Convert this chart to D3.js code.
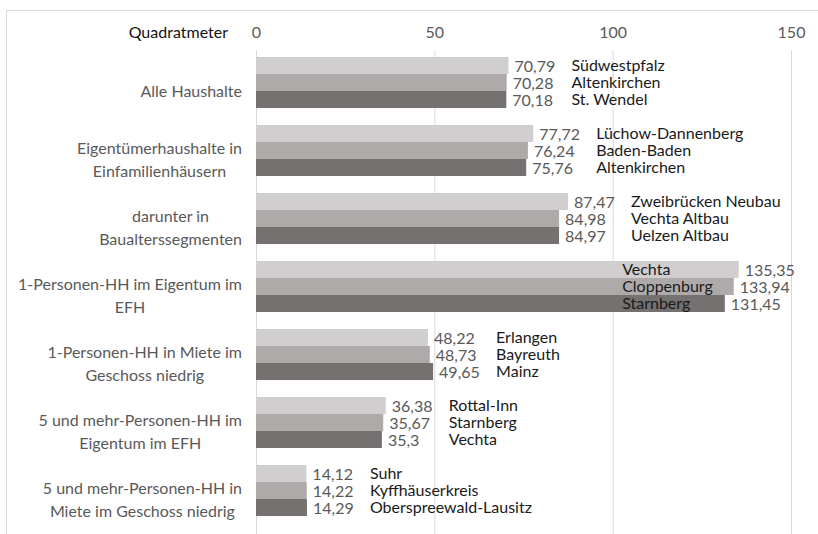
<!DOCTYPE html>
<html>
<head>
<meta charset="utf-8">
<script src="https://cdn.jsdelivr.net/npm/d3@7"></script>
<style>
  body { margin: 0; background: #fff; }
  svg { display: block; }
</style>
</head>
<body>
<div id="chart"></div>
<script>
const WIDTH = 818
const HEIGHT = 534
const FONT = 'Lato, "Open Sans", sans-serif'
const FONT_SIZE = 16

// Kategorien (eine Zeile pro Eintrag im Array)
const CATEGORIES = [
  ['Alle Haushalte'],
  ['Eigentümerhaushalte in', 'Einfamilienhäusern'],
  ['darunter in', 'Baualterssegmenten'],
  ['1-Personen-HH im Eigentum im', 'EFH'],
  ['1-Personen-HH in Miete im', 'Geschoss niedrig'],
  ['5 und mehr-Personen-HH im', 'Eigentum im EFH'],
  ['5 und mehr-Personen-HH in', 'Miete im Geschoss niedrig']
]

// Werte der drei Reihen (Rang 1, 2, 3)
const RANK1 = [70.79, 77.72, 87.47, 135.35, 48.22, 36.38, 14.12]
const RANK2 = [70.28, 76.24, 84.98, 133.94, 48.73, 35.67, 14.22]
const RANK3 = [70.18, 75.76, 84.97, 131.45, 49.65, 35.3, 14.29]

// Regionen zu den Werten
const NAMES1 = ['Südwestpfalz', 'Lüchow-Dannenberg', 'Zweibrücken Neubau', 'Vechta', 'Erlangen', 'Rottal-Inn', 'Suhr']
const NAMES2 = ['Altenkirchen', 'Baden-Baden', 'Vechta Altbau', 'Cloppenburg', 'Bayreuth', 'Starnberg', 'Kyffhäuserkreis']
const NAMES3 = ['St. Wendel', 'Altenkirchen', 'Uelzen Altbau', 'Starnberg', 'Mainz', 'Vechta', 'Oberspreewald-Lausitz']

const TICKS = [0, 50, 100, 150]
const AXIS_TITLE = 'Quadratmeter'

const COLORS = ['#d0cece', '#aeaaaa', '#767171']

const svg = d3.select('#chart').append('svg')
  .attr('width', WIDTH).attr('height', HEIGHT)
  .attr('font-family', FONT)

// Rahmen
svg.append('path')
  .attr('d', `M6.5,${HEIGHT} V10.5 H${WIDTH}`)
  .attr('fill', 'none')
  .attr('stroke', '#d9d9d9')

const x = d3.scaleLinear().domain([0, 150]).range([256, 791])

const y = d3.scaleBand()
  .domain(d3.range(CATEGORIES.length))
  .range([48.5, 524.5])
  .paddingInner(0.25)
  .paddingOuter(0.125)

const ySub = d3.scaleBand().domain([0, 1, 2]).range([0, y.bandwidth()])

const rows = CATEGORIES.map((c, i) => ({
  lines: c,
  items: [
    { s: 0, v: RANK1[i], name: NAMES1[i] },
    { s: 1, v: RANK2[i], name: NAMES2[i] },
    { s: 2, v: RANK3[i], name: NAMES3[i] }
  ]
}))

// Gitterlinien
svg.append('g').selectAll('line')
  .data(TICKS)
  .enter().append('line')
  .attr('x1', d => x(d) + 0.5).attr('x2', d => x(d) + 0.5)
  .attr('y1', 50).attr('y2', HEIGHT)
  .attr('stroke', '#d9d9d9')

// Achse oben
const axisTop = d3.axisTop(x).tickValues(TICKS).tickSize(0).tickPadding(0)
svg.append('g')
  .attr('transform', 'translate(0, 38)')
  .call(axisTop)
  .call(g => g.select('.domain').remove())
  .call(g => g.selectAll('text')
    .attr('font-family', FONT).attr('font-size', FONT_SIZE).attr('fill', '#595959'))

svg.append('text')
  .attr('x', 228).attr('y', 38)
  .attr('text-anchor', 'end')
  .attr('font-size', FONT_SIZE)
  .attr('fill', '#111')
  .text(AXIS_TITLE)

// Kategorienbeschriftung
const catG = svg.append('g')
rows.forEach((r, i) => {
  const t = catG.append('text')
    .attr('font-size', FONT_SIZE)
    .attr('fill', '#595959')
    .attr('text-anchor', 'middle')
  const cy = y(i) + y.bandwidth() / 2 + 9
  const lh = 23
  r.lines.forEach((l, k) => {
    t.append('tspan')
      .attr('y', cy + (k - (r.lines.length - 1) / 2) * lh + 5.5)
      .text(l)
  })
  const w = d3.max(t.selectAll('tspan').nodes(), n => n.getComputedTextLength())
  t.selectAll('tspan').attr('x', 242 - w / 2)
})

// Balken
const groups = svg.append('g').selectAll('g')
  .data(rows)
  .enter().append('g')
  .attr('transform', (d, i) => `translate(0, ${y(i)})`)

groups.selectAll('rect')
  .data(d => d.items)
  .enter().append('rect')
  .attr('x', x(0))
  .attr('y', d => ySub(d.s))
  .attr('width', d => x(d.v) - x(0))
  .attr('height', ySub.bandwidth())
  .attr('fill', d => COLORS[d.s])

const fmt = v => String(v).replace('.', ',')

groups.selectAll('text.val')
  .data(d => d.items)
  .enter().append('text')
  .attr('class', 'val')
  .attr('x', d => x(d.v) + 6)
  .attr('y', d => ySub(d.s) + ySub.bandwidth() / 2 + 6)
  .attr('font-size', FONT_SIZE)
  .attr('fill', '#595959')
  .text(d => fmt(d.v))

// Namen der Regionen, pro Gruppe auf einer Linie
groups.each(function (d) {
  const g = d3.select(this)
  const maxV = d3.max(d.items, e => e.v)
  const minV = d3.min(d.items, e => e.v)
  const names = g.selectAll('text.name')
    .data(d.items)
    .enter().append('text')
    .attr('class', 'name')
    .attr('y', e => ySub(e.s) + ySub.bandwidth() / 2 + 5)
    .attr('font-size', FONT_SIZE)
    .attr('fill', '#1a1a1a')
    .text(e => e.name)
  const nw = d3.max(names.nodes(), n => n.getComputedTextLength())
  let nx = x(maxV) + 6 + 45 + 12
  if (nx + nw > WIDTH - 10) {
    // passt nicht rechts -> in die Balken setzen
    nx = x(minV) - 12 - nw
  }
  names.attr('x', nx)
})
</script>
</body>
</html>
